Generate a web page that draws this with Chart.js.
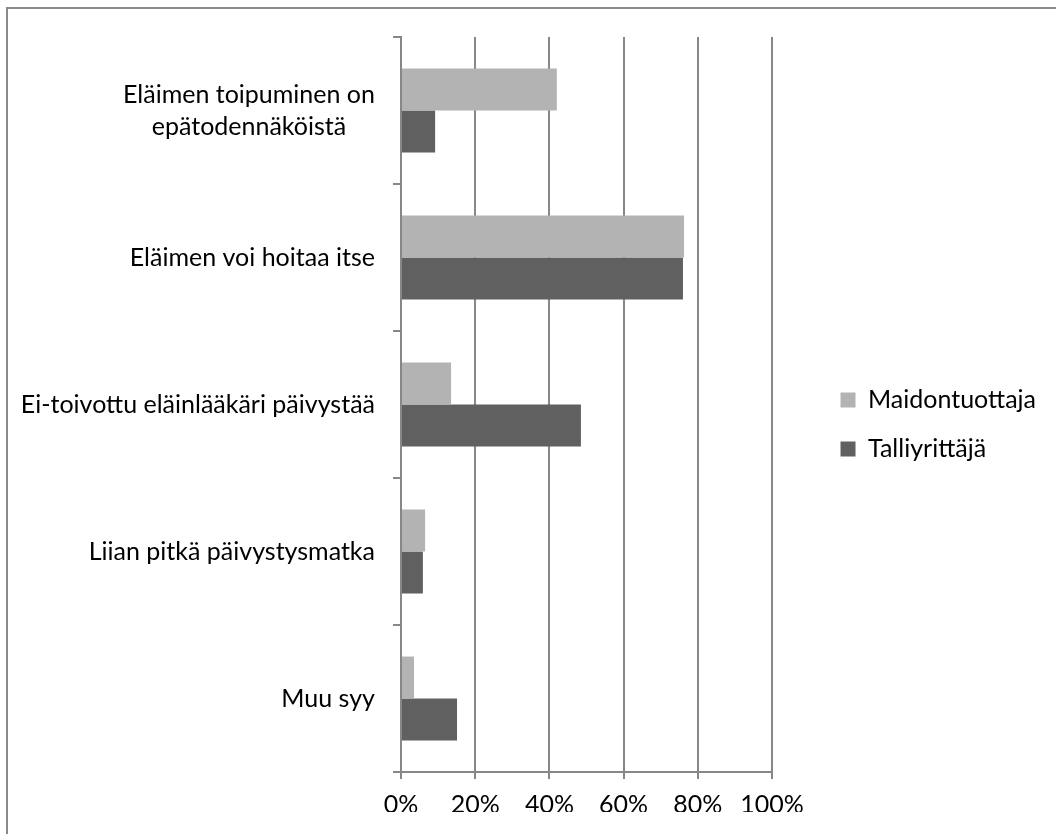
<!DOCTYPE html>
<html lang="fi">
  <head>
    <meta charset="UTF-8" />
    <title>Syyt</title>
    <script src="https://cdn.jsdelivr.net/npm/chart.js@4"></script>
    <style>
      html, body { margin: 0; padding: 0; background: #fff; overflow: hidden; }
      .frame {
        position: absolute; left: 6px; top: 7px; width: 2000px; height: 2000px;
        border-left: 2px solid #898989; border-top: 2px solid #898989;
      }
      canvas { position: absolute; left: 0; top: 0; }
    </style>
  </head>
  <body>
    <div class="frame"></div>
    <canvas id="myChart" width="1056" height="834"></canvas>
    <script>
      const categories = [
        ['Eläimen toipuminen on', 'epätodennäköistä'],
        'Eläimen voi hoitaa itse',
        'Ei-toivottu eläinlääkäri päivystää',
        'Liian pitkä päivystysmatka',
        'Muu syy'
      ];
      const seriesNames = ['Maidontuottaja', 'Talliyrittäjä'];
      const maidontuottaja = [42, 76.3, 13.5, 6.5, 3.5];
      const talliyrittaja = [9.2, 76, 48.5, 5.9, 15.1];
      const xTicks = [0, 20, 40, 60, 80, 100];

      const FONT = { family: 'Lato', size: 25 };
      const GRID = '#878787';
      const PAD_RIGHT = 10;

      // Excel style category labels: block right aligned, lines centred
      const categoryLabels = {
        id: 'categoryLabels',
        afterDraw(chart) {
          const ctx = chart.ctx;
          const ys = chart.scales.y;
          const lh = 32;
          ctx.save();
          ctx.font = FONT.size + 'px ' + FONT.family;
          ctx.fillStyle = '#000';
          ctx.textAlign = 'center';
          ctx.textBaseline = 'middle';
          categories.forEach((lab, i) => {
            const lines = Array.isArray(lab) ? lab : [lab];
            const w = Math.max(...lines.map(l => ctx.measureText(l).width));
            const cx = chart.chartArea.left - 26 - w / 2;
            const y0 = ys.getPixelForTick(i) - (lines.length - 1) * lh / 2;
            lines.forEach((l, k) => ctx.fillText(l, cx, y0 + k * lh));
          });
          ctx.restore();
        }
      };

      const ctx = document.getElementById('myChart').getContext('2d');
      const myChart = new Chart(ctx, {
        type: 'bar',
        data: {
          labels: categories,
          datasets: [
            {
              label: seriesNames[0],
              data: maidontuottaja,
              backgroundColor: '#b3b3b3',
              borderWidth: 0
            },
            {
              label: seriesNames[1],
              data: talliyrittaja,
              backgroundColor: '#606060',
              borderWidth: 0
            }
          ]
        },
        options: {
          indexAxis: 'y',
          responsive: false,
          animation: false,
          events: [],
          categoryPercentage: 0.571,
          barPercentage: 1.0,
          layout: { padding: { top: 37, bottom: 22, left: 0, right: PAD_RIGHT } },
          scales: {
            x: {
              min: 0,
              max: 100,
              afterBuildTicks: s => { s.ticks = xTicks.map(v => ({ value: v })); },
              afterFit: s => { s.height = 40; },
              grid: { color: GRID, lineWidth: 2, drawTicks: true, tickLength: 7 },
              border: { display: true, color: GRID, width: 2 },
              ticks: {
                font: FONT,
                color: '#000',
                padding: 11,
                maxRotation: 0,
                callback: v => v + '%'
              }
            },
            y: {
              afterFit: s => { s.width = 401; },
              offset: true,
              grid: { offset: true, drawOnChartArea: false, drawTicks: true, tickLength: 8, color: GRID, lineWidth: 2 },
              border: { display: true, color: GRID, width: 2 },
              ticks: { display: false }
            },
            yPad: {
              type: 'linear',
              position: 'right',
              afterFit: s => { s.width = Math.max(0, s.chart.width - PAD_RIGHT - s.chart.legend.width - 772); },
              grid: { display: false },
              border: { display: false },
              ticks: { display: false }
            }
          },
          plugins: {
            legend: {
              position: 'right',
              align: 'center',
              maxWidth: 320,
              labels: {
                font: FONT,
                color: '#000',
                boxWidth: 15,
                boxHeight: 15,
                padding: 24
              }
            },
            tooltip: { enabled: false }
          }
        },
        plugins: [categoryLabels]
      });
    </script>
  </body>
</html>
